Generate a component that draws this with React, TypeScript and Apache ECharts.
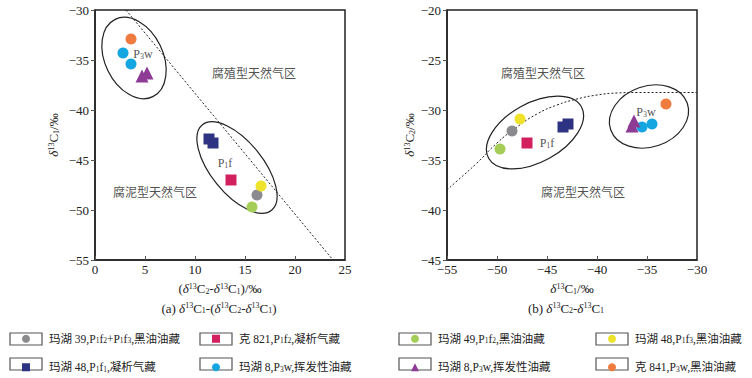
import React, { useEffect, useRef } from 'react';
import * as echarts from 'echarts';

const FONT = '"Liberation Serif", "Noto Sans CJK SC", serif';
const INK = '#222';

// series keys (legend order by column) and their legend labels
const SERIES_NAMES = [
  '玛湖 39,P1f2+P1f3,黑油油藏',
  '玛湖 48,P1f1,凝析气藏',
  '克 821,P1f2,凝析气藏',
  '玛湖 8,P3w,挥发性油藏',
  '玛湖 49,P1f2,黑油油藏',
  '玛湖 8,P3w,挥发性油藏 ',
  '玛湖 48,P1f3,黑油油藏',
  '克 841,P3w,黑油油藏',
];
const LEGEND_LABELS = [
  '玛湖 39,P{sub|1}f{sub|2}+P{sub|1}f{sub|3},黑油油藏',
  '玛湖 48,P{sub|1}f{sub|1},凝析气藏',
  '克 821,P{sub|1}f{sub|2},凝析气藏',
  '玛湖 8,P{sub|3}w,挥发性油藏',
  '玛湖 49,P{sub|1}f{sub|2},黑油油藏',
  '玛湖 8,P{sub|3}w,挥发性油藏',
  '玛湖 48,P{sub|1}f{sub|3},黑油油藏',
  '克 841,P{sub|3}w,黑油油藏',
];
const SERIES_COLORS = ['#8b8b8f', '#2e3282', '#d21f5e', '#14a6e0', '#a4cd58', '#8e3b96', '#efe22a', '#ef7b3e'];
const SERIES_SYMBOLS = ['circle', 'rect', 'rect', 'circle', 'circle', 'triangle', 'circle', 'circle'];

// (a) x = δ13C2-δ13C1, y = δ13C1
const LEFT_DATA = [
  [[16.2, -48.5]],
  [[11.4, -42.9], [11.8, -43.3]],
  [[13.6, -47.0]],
  [[2.8, -34.3], [3.6, -35.4]],
  [[15.7, -49.7]],
  [[4.7, -36.6], [5.2, -36.3]],
  [[16.6, -47.6]],
  [[3.6, -32.9]],
];
// (b) x = δ13C1, y = δ13C2
const RIGHT_DATA = [
  [[-48.5, -32.1]],
  [[-43.4, -31.7], [-42.9, -31.4]],
  [[-47.0, -33.3]],
  [[-35.5, -31.7], [-34.5, -31.4]],
  [[-49.7, -33.9]],
  [[-36.5, -31.6], [-36.3, -31.1]],
  [[-47.7, -30.9]],
  [[-33.1, -29.4]],
];

// boundary lines
const LEFT_BOUNDARY = [[3.1, -30], [23.8, -55]];
const RIGHT_BOUNDARY = [
  [-55, -38], [-54, -37.1], [-52, -35.3], [-50, -33.3], [-48, -31.7], [-46, -30.4],
  [-44, -29.5], [-42, -28.9], [-40, -28.5], [-38, -28.3], [-36, -28.25], [-30, -28.25],
];

// ellipses: [cx, cy, rx (x units), ry (y units), rotation deg]
const LEFT_ELLIPSES = [[3.9, -34.8, 2.9, 4.3, 26], [14.2, -45.75, 2.6, 5.5, 39]];
const RIGHT_ELLIPSES = [[-46.2, -32.25, 5.3, 2.95, 29], [-34.8, -30.65, 4.05, 3.04, 19]];

// annotations
const LEFT_NOTES = ['P{sub|3}w', '腐殖型天然气区', 'P{sub|1}f', '腐泥型天然气区'];
const LEFT_NOTE_POS = [[4.8, -34.4], [15.9, -36.4], [13.0, -45.3], [6.0, -48.3]];
const RIGHT_NOTES = ['腐殖型天然气区', 'P{sub|3}w', 'P{sub|1}f', '腐泥型天然气区'];
const RIGHT_NOTE_POS = [[-45.4, -26.4], [-35.1, -30.2], [-45.0, -33.3], [-41.4, -38.3]];

const X_RANGE_A = [0, 25];
const Y_RANGE_A = [-55, -30];
const X_RANGE_B = [-55, -30];
const Y_RANGE_B = [-45, -20];
const TICK_STEP = 5;

const minus = (v: number) => (v < 0 ? '\u2212' + Math.abs(v) : String(v));

const richE = (size: number) => ({
  i: { fontStyle: 'italic', fontFamily: FONT, fontSize: size, color: INK },
  sup: { fontSize: Math.round(size * 0.62), verticalAlign: 'top', fontFamily: FONT, color: INK },
  sub: { fontSize: Math.round(size * 0.62), verticalAlign: 'bottom', fontFamily: FONT, color: INK },
});
const richZ = (size: number) => ({
  i: { fontStyle: 'italic', fontFamily: FONT, fontSize: size, fill: INK },
  sup: { fontSize: Math.round(size * 0.62), verticalAlign: 'top', fontFamily: FONT, fill: INK },
  sub: { fontSize: Math.round(size * 0.62), verticalAlign: 'bottom', fontFamily: FONT, fill: INK },
});

function ellipseRender(params: any, api: any) {
  const c = api.coord([api.value(0), api.value(1)]);
  const s = api.size([api.value(2), api.value(3)]);
  return {
    type: 'ellipse',
    x: c[0],
    y: c[1],
    rotation: (api.value(4) * Math.PI) / 180,
    shape: { cx: 0, cy: 0, rx: Math.abs(s[0]), ry: Math.abs(s[1]) },
    style: { fill: 'none', stroke: INK, lineWidth: 1.2 },
  };
}

function axisBase(min: number, max: number, isX: boolean, gridIndex: number, name: string, nameGap: number) {
  return {
    type: 'value',
    gridIndex,
    min,
    max,
    interval: TICK_STEP,
    name,
    nameLocation: 'middle',
    nameGap,
    nameRotate: isX ? 0 : 90,
    nameTextStyle: { fontFamily: FONT, fontSize: 13, color: INK, rich: richE(13) },
    axisLine: { show: true, onZero: false, lineStyle: { color: INK, width: 1.5 } },
    axisTick: { show: true, inside: isX, length: 4, lineStyle: { color: '#555', width: 1 } },
    splitLine: { show: false },
    axisLabel: {
      formatter: minus,
      fontFamily: FONT,
      fontSize: 13,
      color: INK,
      margin: isX ? 3 : 6,
    },
  };
}

function buildOption() {
  const series: any[] = [];
  [LEFT_DATA, RIGHT_DATA].forEach((set, gi) => {
    set.forEach((pts, i) => {
      series.push({
        type: 'scatter',
        name: SERIES_NAMES[i],
        xAxisIndex: gi,
        yAxisIndex: gi,
        symbol: SERIES_SYMBOLS[i],
        symbolSize: SERIES_SYMBOLS[i] === 'triangle' ? 13 : 11,
        itemStyle: { color: SERIES_COLORS[i], opacity: 1 },
        data: pts,
        z: 5,
      });
    });
  });
  series.push({
    type: 'line',
    xAxisIndex: 0,
    yAxisIndex: 0,
    data: LEFT_BOUNDARY,
    symbol: 'none',
    lineStyle: { color: INK, width: 1, type: [2, 2] },
    silent: true,
    z: 3,
  });
  series.push({
    type: 'line',
    xAxisIndex: 1,
    yAxisIndex: 1,
    data: RIGHT_BOUNDARY,
    smooth: true,
    symbol: 'none',
    lineStyle: { color: INK, width: 1, type: [2, 2] },
    silent: true,
    z: 3,
  });
  [LEFT_ELLIPSES, RIGHT_ELLIPSES].forEach((set, gi) => {
    series.push({
      type: 'custom',
      xAxisIndex: gi,
      yAxisIndex: gi,
      renderItem: ellipseRender,
      data: set,
      encode: { x: 0, y: 1 },
      silent: true,
      clip: false,
      z: 4,
    });
  });
  [[LEFT_NOTES, LEFT_NOTE_POS], [RIGHT_NOTES, RIGHT_NOTE_POS]].forEach(([notes, pos]: any, gi) => {
    series.push({
      type: 'scatter',
      xAxisIndex: gi,
      yAxisIndex: gi,
      symbolSize: 1,
      itemStyle: { color: 'rgba(0,0,0,0)' },
      silent: true,
      z: 6,
      data: pos.map((p: number[], k: number) => ({
        value: p,
        label: {
          show: true,
          position: 'inside',
          formatter: notes[k],
          fontFamily: FONT,
          fontSize: notes[k].length > 6 ? 12 : 13,
          color: INK,
          rich: richE(13),
        },
      })),
    });
  });

  const legendCols = [10, 200, 399, 596];
  const legends = legendCols.map((boxX, c) => ({
    left: boxX + 12,
    top: 333,
    orient: 'vertical',
    padding: 0,
    itemWidth: 8,
    itemHeight: 8,
    itemGap: 17,
    selectedMode: false,
    data: [SERIES_NAMES[c * 2], SERIES_NAMES[c * 2 + 1]],
    formatter: (name: string) => '{g|}' + LEGEND_LABELS[SERIES_NAMES.indexOf(name)],
    textStyle: {
      fontFamily: FONT,
      fontSize: 11.5,
      color: INK,
      rich: {
        g: { width: 14 },
        sub: { fontSize: 7.5, verticalAlign: 'bottom', fontFamily: FONT, color: INK },
      },
    },
  }));

  const boxes: any[] = [];
  legendCols.forEach((x) => {
    [333, 358].forEach((y) => {
      boxes.push({
        type: 'rect',
        shape: { x, y, width: 32, height: 12 },
        style: { fill: 'none', stroke: '#555', lineWidth: 1.2 },
        z: -1,
      });
    });
  });

  const captions = [
    { x: 219, y: 308, text: '(a) {i|δ}{sup|13}C{sub|1}-({i|δ}{sup|13}C{sub|2}-{i|δ}{sup|13}C{sub|1})' },
    { x: 566, y: 308, text: '(b) {i|δ}{sup|13}C{sub|2}-{i|δ}{sup|13}C{sub|1}' },
  ].map((c) => ({
    type: 'text',
    x: c.x,
    y: c.y,
    style: {
      text: c.text,
      align: 'center',
      verticalAlign: 'middle',
      fontFamily: FONT,
      fontSize: 13,
      fill: INK,
      rich: richZ(13),
    },
  }));

  return {
    animation: false,
    backgroundColor: '#fff',
    grid: [
      { left: 95, top: 10, width: 250, height: 250, show: true, borderColor: INK, borderWidth: 1.5, backgroundColor: 'transparent' },
      { left: 447, top: 10, width: 250, height: 250, show: true, borderColor: INK, borderWidth: 1.5, backgroundColor: 'transparent' },
    ],
    xAxis: [
      axisBase(X_RANGE_A[0], X_RANGE_A[1], true, 0, '({i|δ}{sup|13}C{sub|2}-{i|δ}{sup|13}C{sub|1})/‰', 22),
      axisBase(X_RANGE_B[0], X_RANGE_B[1], true, 1, '{i|δ}{sup|13}C{sub|1}/‰', 22),
    ],
    yAxis: [
      axisBase(Y_RANGE_A[0], Y_RANGE_A[1], false, 0, '{i|δ}{sup|13}C{sub|1}/‰', 35),
      axisBase(Y_RANGE_B[0], Y_RANGE_B[1], false, 1, '{i|δ}{sup|13}C{sub|2}/‰', 31),
    ],
    legend: legends,
    graphic: [...boxes, ...captions],
    series,
  };
}

export default function App() {
  const ref = useRef<HTMLDivElement>(null);
  useEffect(() => {
    if (!ref.current) return;
    const chart = echarts.init(ref.current, null, { renderer: 'svg' });
    chart.setOption(buildOption() as any);
    return () => chart.dispose();
  }, []);
  return (
    <div
      ref={ref}
      style={{ position: 'fixed', left: 0, top: 0, width: 752, height: 378, background: '#fff' }}
    />
  );
}
